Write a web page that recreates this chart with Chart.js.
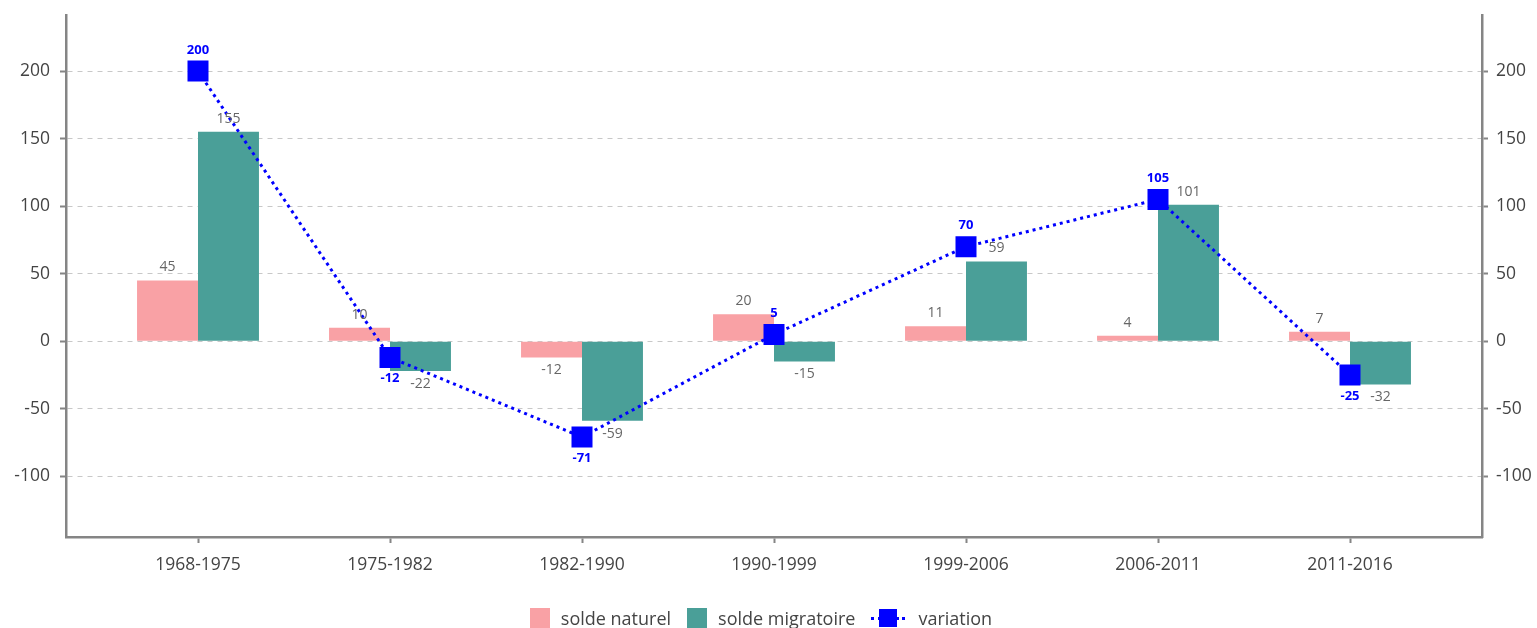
<!DOCTYPE html>
<html>
<head>
<meta charset="utf-8">
<script src="https://cdn.jsdelivr.net/npm/chart.js@4"></script>
<style>
  html, body { margin: 0; padding: 0; background: #fff; }
  #wrap { position: relative; width: 1537px; height: 628px; }
  #legend {
    position: absolute; left: 0; right: 15px; top: 606px;
    display: flex; justify-content: center; align-items: center;
    font-family: "Open Sans", sans-serif; font-size: 18px; color: #444;
  }
  .item { display: flex; align-items: center; margin: 0 8px; }
  .box { width: 20px; height: 20px; margin-right: 11px; }
  .line { position: relative; width: 34px; height: 20px; margin-right: 13px; }
  .line .dots { position: absolute; left: 0; right: 0; top: 9px; border-top: 3px dotted #0000ff; }
  .line .sq { position: absolute; left: 8px; top: 1px; width: 18px; height: 18px; background: #0000ff; }
</style>
</head>
<body>
<div id="wrap">
  <canvas id="chart" width="1537" height="628"></canvas>
  <div id="legend">
    <div class="item"><span class="box" style="background:#f9a1a5"></span>solde naturel</div>
    <div class="item"><span class="box" style="background:#4a9f98"></span>solde migratoire</div>
    <div class="item"><span class="line"><span class="dots"></span><span class="sq"></span></span>variation</div>
  </div>
</div>
<script>
// periods and values
const periods = ["1968-1975", "1975-1982", "1982-1990", "1990-1999", "1999-2006", "2006-2011", "2011-2016"];
const soldeNaturel = [45, 10, -12, 20, 11, 4, 7];
const soldeMigratoire = [155, -22, -59, -15, 59, 101, -32];
const variation = [200, -12, -71, 5, 70, 105, -25];
const yTicks = [-100, -50, 0, 50, 100, 150, 200];

const AXIS = "#858585";
const FONT = "'Open Sans', sans-serif";

function toPoints(arr) {
    return arr.map((v, i) => ({ x: i, y: v }));
}

// value labels, drawn after the datasets
const valueLabels = {
    id: "valueLabels",
    afterDatasetsDraw(chart) {
        const ctx = chart.ctx;
        ctx.save();
        ctx.textAlign = "center";
        chart.data.datasets.forEach((ds, di) => {
            const meta = chart.getDatasetMeta(di);
            meta.data.forEach((el, i) => {
                const v = ds.data[i].y;
                if (ds.type === "line") {
                    ctx.font = "bold 13px " + FONT;
                    ctx.fillStyle = "#0000ff";
                    ctx.textBaseline = "middle";
                    ctx.fillText(v, el.x, v >= 0 ? el.y - 21 : el.y + 21);
                } else {
                    ctx.font = "14px " + FONT;
                    ctx.fillStyle = "#666";
                    if (v >= 0) {
                        ctx.textBaseline = "bottom";
                        ctx.fillText(v, el.x, el.y - 6);
                    } else {
                        ctx.textBaseline = "top";
                        ctx.fillText(v, el.x, el.y + 6);
                    }
                }
            });
        });
        ctx.restore();
    }
};

function fixTicks(scale) {
    scale.ticks = yTicks.map(v => ({ value: v }));
}

function fitY(width) {
    return function (scale) {
        scale.width = width;
        scale.paddingTop = 0;
        scale.paddingBottom = 0;
    };
}

new Chart(document.getElementById("chart"), {
    type: "bar",
    data: {
        datasets: [
            {
                type: "line",
                label: "variation",
                data: toPoints(variation),
                borderColor: "#0000ff",
                backgroundColor: "#0000ff",
                borderWidth: 3,
                borderDash: [3, 4],
                pointStyle: "rect",
                pointRadius: 12.73,
                pointHoverRadius: 12.73,
                order: 0
            },
            {
                label: "solde naturel",
                data: toPoints(soldeNaturel),
                backgroundColor: "#f9a1a5",
                categoryPercentage: 0.635,
                barPercentage: 1,
                order: 1
            },
            {
                label: "solde migratoire",
                data: toPoints(soldeMigratoire),
                backgroundColor: "#4a9f98",
                categoryPercentage: 0.635,
                barPercentage: 1,
                order: 1
            }
        ]
    },
    options: {
        responsive: false,
        animation: false,
        layout: { padding: { top: 12, right: 0, left: 0, bottom: 0 } },
        plugins: {
            legend: { display: false },
            tooltip: { enabled: false }
        },
        scales: {
            x: {
                type: "linear",
                min: -0.6875,
                max: 6.6875,
                offset: false,
                afterBuildTicks(scale) {
                    scale.ticks = periods.map((p, i) => ({ value: i }));
                },
                afterFit(scale) { scale.height = 91; },
                ticks: {
                    callback: (v) => periods[v],
                    font: { family: FONT, size: 17.5 },
                    color: "#444",
                    padding: 12,
                    maxRotation: 0
                },
                grid: { offset: false, drawOnChartArea: false, tickLength: 6, tickColor: AXIS, tickWidth: 2 },
                border: { color: AXIS, width: 2.5 }
            },
            y: {
                position: "left",
                min: -145,
                max: 241,
                afterBuildTicks: fixTicks,
                afterFit: fitY(66),
                ticks: { font: { family: FONT, size: 17.5 }, color: "#444", padding: 10 },
                grid: { color: "#c8c8c8", lineWidth: 1, tickLength: 6, tickColor: AXIS, tickWidth: 2 },
                border: { color: AXIS, width: 2.5, dash: [5, 5] }
            },
            y1: {
                position: "right",
                min: -145,
                max: 241,
                afterBuildTicks: fixTicks,
                afterFit: fitY(55),
                ticks: { font: { family: FONT, size: 17.5 }, color: "#444", padding: 8 },
                grid: { drawOnChartArea: false, tickLength: 6, tickColor: AXIS, tickWidth: 2 },
                border: { color: AXIS, width: 2.5 }
            }
        }
    },
    plugins: [valueLabels]
});
</script>
</body>
</html>
